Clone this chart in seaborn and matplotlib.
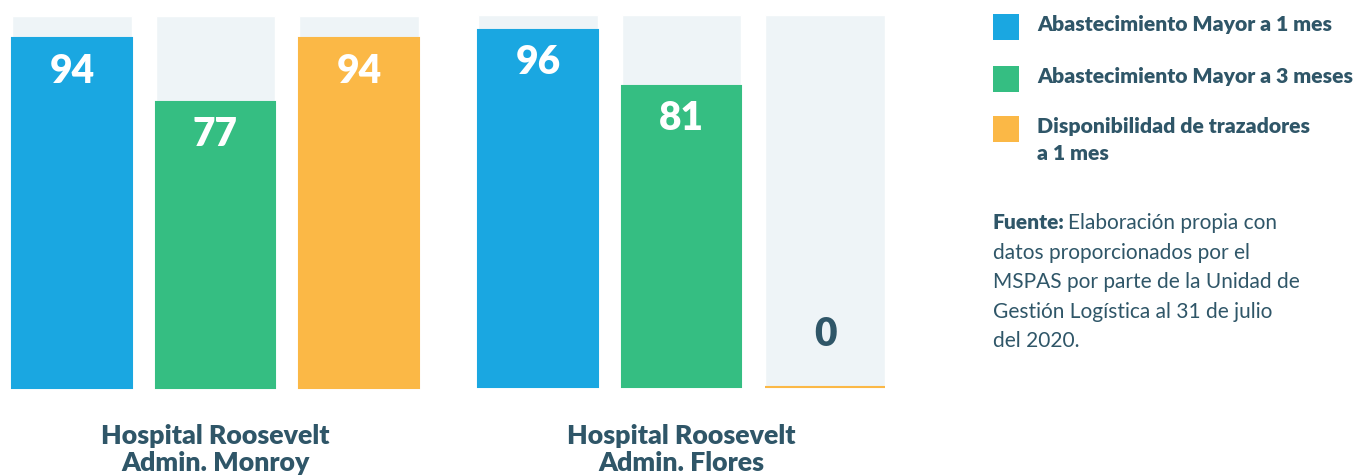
import pandas as pd
import matplotlib.pyplot as plt
import seaborn as sns
from matplotlib.patches import Rectangle

hospitals = ["Hospital Roosevelt\nAdmin. Monroy", "Hospital Roosevelt\nAdmin. Flores"]
indicators = ["Abastecimiento Mayor a 1 mes", "Abastecimiento Mayor a 3 meses",
              "Disponibilidad de trazadores\na 1 mes"]
monroy = [94, 77, 94]
flores = [96, 81, 0]
colors = ["#1AA7E1", "#35BE82", "#FBB846"]
bg_color = "#EEF4F7"
text_color = "#2F5668"
fuente_lines = ["Elaboración propia con", "datos proporcionados por el",
                "MSPAS por parte de la Unidad de", "Gestión Logística al 31 de julio",
                "del 2020."]

df = pd.DataFrame({
    "hospital": [hospitals[0]] * 3 + [hospitals[1]] * 3,
    "indicador": indicators * 2,
    "valor": monroy + flores,
})

sns.set_theme(style="white")
plt.rcParams["font.family"] = ["Lato", "DejaVu Sans"]
BOLD = "heavy"

W, H = 1354, 475
fig = plt.figure(figsize=(W / 100, H / 100), dpi=100)


def px(x, y):
    return x / W, 1 - y / H


def bar_group(ax, sub, label):
    full = sub.assign(valor=100)
    sns.barplot(data=full, x="indicador", y="valor", color=bg_color,
                width=0.836, ax=ax, saturation=1)
    n_bg = len(ax.patches)
    sns.barplot(data=sub, x="indicador", y="valor", hue="indicador",
                palette=colors, width=0.836, ax=ax, saturation=1, legend=False)
    for p in ax.patches[n_bg:]:
        p.set_edgecolor(p.get_facecolor())
        p.set_linewidth(1.5)
        p.set_clip_on(False)
    for i, v in enumerate(sub["valor"]):
        if v > 10:
            ax.text(i, v - 8.8, str(v), ha="center", va="center", color="white",
                    fontsize=28, fontweight=BOLD)
        else:
            ax.text(i, v + 14.2, str(v), ha="center", va="center", color=text_color,
                    fontsize=28, fontweight=BOLD)
    ax.set_xlim(-0.418, 2.418)
    ax.set_ylim(0, 100)
    ax.set_axis_off()
    cx = (ax.get_position().x0 + ax.get_position().x1) / 2
    fig.text(cx, px(0, 424)[1], label, ha="center", va="top", color=text_color,
             fontsize=19.3, fontweight=BOLD, linespacing=1.15)


ax1 = fig.add_axes([12 / W, (H - 388) / H, 407 / W, 372 / H])
bar_group(ax1, df[df["hospital"] == hospitals[0]], hospitals[0])
ax2 = fig.add_axes([478 / W, (H - 387) / H, 407 / W, 372 / H])
bar_group(ax2, df[df["hospital"] == hospitals[1]], hospitals[1])

# legend
legend_y = [14, 66, 116]
for lbl, c, y in zip(indicators, colors, legend_y):
    x0, y0 = px(993, y + 26)
    fig.patches.append(Rectangle((x0, y0), 26 / W, 26 / H, transform=fig.transFigure,
                                 facecolor=c, edgecolor="none"))
    fig.text(*px(1037, y + 1), lbl, ha="left", va="top", color=text_color,
             fontsize=15.2, fontweight=BOLD, linespacing=1.5)

# source note
fuente = fig.text(*px(993, 213), "Fuente:", ha="left", va="top", color=text_color,
                  fontsize=15, fontweight=BOLD)
fig.canvas.draw()
x_end = fuente.get_window_extent().x1 + 3
for i, line in enumerate(fuente_lines):
    x = x_end if i == 0 else 993
    fig.text(*px(x, 213 + i * 29.6), line, ha="left", va="top", color=text_color,
             fontsize=15)

fig.savefig("out.png", dpi=100, facecolor="white")
